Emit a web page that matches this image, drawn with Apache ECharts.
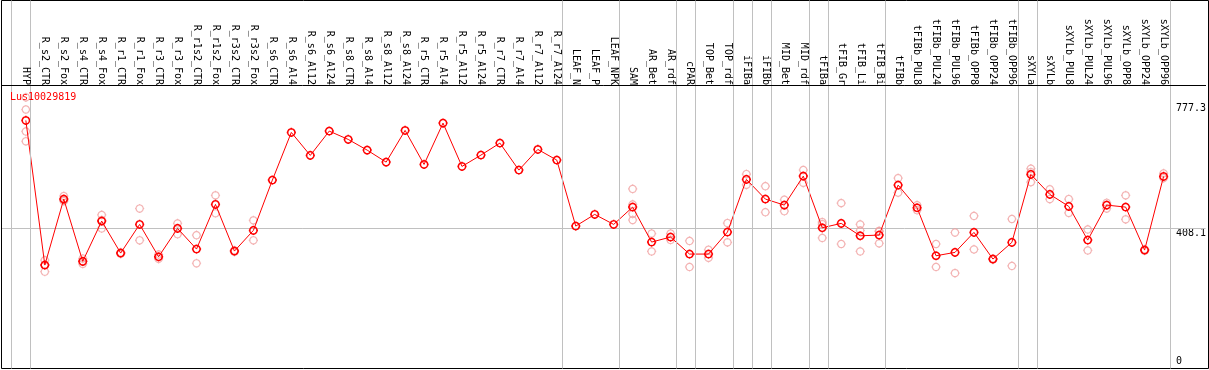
<!DOCTYPE html>
<html>
<head>
<meta charset="utf-8">
<script src="https://cdn.jsdelivr.net/npm/echarts@6/dist/echarts.min.js"></script>
<style>
html,body{margin:0;padding:0;background:#fff;}
#chart{width:1209px;height:370px;}
</style>
</head>
<body>
<div id="chart"></div>
<script>
// ---------------- data ----------------
const titleText = 'Lus10029819';
const categories = [
  'HYP','R_s2_CTR','R_s2_Fox','R_s4_CTR','R_s4_Fox','R_r1_CTR','R_r1_Fox','R_r3_CTR','R_r3_Fox',
  'R_r1s2_CTR','R_r1s2_Fox','R_r3s2_CTR','R_r3s2_Fox','R_s6_CTR','R_s6_Al4','R_s6_Al12','R_s6_Al24',
  'R_s8_CTR','R_s8_Al4','R_s8_Al12','R_s8_Al24','R_r5_CTR','R_r5_Al4','R_r5_Al12','R_r5_Al24',
  'R_r7_CTR','R_r7_Al4','R_r7_Al12','R_r7_Al24','LEAF_N','LEAF_P','LEAF_NPK','SAM','AR_Bet','AR_rdf',
  'cPAR','TOP_Bet','TOP_rdf','iFIBa','iFIBb','MID_Bet','MID_rdf','tFIBa','tFIB_Gr','tFIB_Li','tFIB_Bi',
  'tFIBb','tFIBb_PUL8','tFIBb_PUL24','tFIBb_PUL96','tFIBb_OPP8','tFIBb_OPP24','tFIBb_OPP96',
  'sXYLa','sXYLb','sXYLb_PUL8','sXYLb_PUL24','sXYLb_PUL96','sXYLb_OPP8','sXYLb_OPP24','sXYLb_OPP96'
];
const meanValues = [
  726.7, 298.6, 493.9, 309.6, 428.8, 334.1, 419.0, 323.2, 407.2,
  346.0, 478.2, 340.1, 401.3, 550.1, 691.2, 623.2, 695.1,
  670.5, 638.8, 603.3, 697.1, 596.5, 718.7, 590.6, 624.1,
  659.6, 579.7, 640.9, 609.3, 414.0, 448.6, 419.0, 470.2, 366.7, 381.5,
  331.2, 331.2, 396.3, 552.2, 493.9, 476.1, 561.9, 409.0, 422.0, 385.3, 387.4,
  535.3, 468.2, 326.2, 336.2, 395.4, 316.4, 365.8,
  567.0, 507.8, 472.3, 372.6, 476.1, 470.2, 343.0, 561.0
];
const replicates = [
  [795, 759, 694, 665], [313, 299, 279], [503, 491, 488], [318, 309, 302], [447, 432, 407],
  [336, 332], [466, 372], [330, 317], [422, 390],
  [387, 304], [505, 452], [342, 338], [431, 372], [], [], [], [],
  [], [], [], [], [], [], [], [],
  [], [], [], [], [], [], [], [524, 478, 450, 432], [392, 339], [392, 373],
  [370, 293], [344, 320], [423, 366], [568, 536], [532, 455], [492, 458], [580, 542],
  [426, 420, 379], [482, 361], [419, 401, 339], [400, 398, 363],
  [556, 513], [476, 461], [361, 293], [395, 275], [444, 345], [318, 315], [435, 296],
  [584, 574, 544], [523, 494], [494, 453], [404, 342], [483, 466], [505, 434], [345, 341], [570, 556]
];
const groupSizes = [1, 28, 3, 3, 1, 2, 1, 1, 2, 1, 3, 7, 1, 7];
const yTickLabels = [0, 408.1, 777.3];
const refLineValue = 408.1;

// ---------------- layout constants ----------------
const X0 = 25.9, STEP = 19;      // pixel of first category, pixel step
const SEP_OFFSET = 0.232;        // separator offset after a group's last index
const Y_MAX = 831.5;
const FONT = 'DejaVu Sans Mono';
function xRange(leftPx, rightPx) { return [(leftPx - X0) / STEP, (rightPx - X0) / STEP]; }

const W = 1209, H = 370;
const dataGrid = { left: 2, right: 1, top: 85, bottom: 4 };
const frameGrid = { left: 1.5, right: 0.5, top: 0.5, bottom: 1.5 };
const r0 = xRange(dataGrid.left, W - dataGrid.right);
const r1 = xRange(frameGrid.left, W - frameGrid.right);

// separators
const sepPositions = [-1 + SEP_OFFSET];
let cum = 0;
groupSizes.forEach(g => { cum += g; sepPositions.push(cum - 1 + SEP_OFFSET); });

const meanData = meanValues.map((v, i) => [i, v]);
const repData = [];
replicates.forEach((arr, i) => arr.forEach(v => repData.push([i, v])));
const catIdx = categories.map((c, i) => i);

// marker shape: polygonal circle + 4 small ticks
function markerPath(r, t) {
  const n = 32;
  let p = '';
  for (let k = 0; k <= n; k++) {
    const a = 2 * Math.PI * k / n;
    p += (k === 0 ? 'M' : 'L') + (r * Math.cos(a)).toFixed(3) + ',' + (r * Math.sin(a)).toFixed(3);
  }
  p += 'Z';
  p += `M0,${-t}L0,${-r}M0,${r}L0,${t}M${-t},0L${-r},0M${r},0L${t},0`;
  return 'path://' + p;
}
const MARK = markerPath(3.6, 4.6);
const yAxisLabelX = 1170.3;

const chart = echarts.init(document.getElementById('chart'), null, { renderer: 'canvas' });
chart.setOption({
  animation: false,
  backgroundColor: '#fff',
  title: {
    text: titleText, left: 10, top: 92, padding: 0,
    textStyle: { color: '#ff0000', fontSize: 10, fontFamily: FONT, fontWeight: 'normal' }
  },
  grid: [
    Object.assign({}, dataGrid, { containLabel: false }),
    Object.assign({}, frameGrid, { show: true, borderColor: '#000', borderWidth: 1, backgroundColor: 'transparent', z: 0 })
  ],
  xAxis: [
    {
      type: 'value', gridIndex: 0, min: r0[0], max: r0[1], position: 'top', z: 5,
      axisLine: { show: true, onZero: false, lineStyle: { color: '#000', width: 1 } },
      axisTick: { show: false },
      splitLine: { show: false },
      axisLabel: {
        show: true, customValues: catIdx, rotate: 90, margin: 0,
        fontFamily: FONT, fontSize: 10, color: '#000',
        formatter: v => categories[Math.round(v)] || ''
      }
    },
    {
      type: 'value', gridIndex: 1, min: r1[0], max: r1[1], show: false
    }
  ],
  yAxis: [
    {
      type: 'value', gridIndex: 0, min: 0, max: Y_MAX, position: 'right',
      offset: -((W - dataGrid.right) - yAxisLabelX),
      axisLine: { show: false }, axisTick: { show: false }, splitLine: { show: false },
      axisLabel: {
        customValues: yTickLabels.filter(v => v !== 0), margin: 8, verticalAlign: 'top',
        fontFamily: FONT, fontSize: 10, color: '#000', formatter: v => String(v)
      }
    },
    {
      type: 'value', gridIndex: 1, min: 0, max: 1, show: false
    },
    {
      type: 'value', gridIndex: 0, min: 0, max: Y_MAX, position: 'right',
      offset: -((W - dataGrid.right) - yAxisLabelX),
      axisLine: { show: false }, axisTick: { show: false }, splitLine: { show: false },
      axisLabel: {
        customValues: yTickLabels.filter(v => v === 0), margin: 8, verticalAlign: 'bottom',
        fontFamily: FONT, fontSize: 10, color: '#000', formatter: v => String(v)
      }
    }
  ],
  series: [
    {
      type: 'line', xAxisIndex: 1, yAxisIndex: 1, data: [], silent: true, z: 1,
      markLine: {
        silent: true, symbol: ['none', 'none'], label: { show: false },
        lineStyle: { color: '#c0c0c0', width: 1, type: 'solid' },
        emphasis: { disabled: true },
        data: sepPositions.map(x => ({ xAxis: x }))
      }
    },
    {
      type: 'scatter', xAxisIndex: 0, yAxisIndex: 0, data: repData, z: 3, silent: true,
      symbol: MARK, symbolSize: 9.2,
      itemStyle: { color: 'transparent', borderColor: '#f0a0a0', borderWidth: 1.2 }
    },
    {
      type: 'line', xAxisIndex: 0, yAxisIndex: 0, data: meanData, z: 4, silent: true,
      symbol: MARK, symbolSize: 9.2, showAllSymbol: true,
      lineStyle: { color: '#ff0000', width: 1 },
      itemStyle: { color: 'transparent', borderColor: '#ff0000', borderWidth: 1.5 },
      markLine: {
        silent: true, symbol: ['none', 'none'], label: { show: false },
        lineStyle: { color: '#c0c0c0', width: 1, type: 'solid' },
        emphasis: { disabled: true },
        z: 1,
        data: [{ yAxis: refLineValue }]
      }
    }
  ]
});
</script>
</body>
</html>
